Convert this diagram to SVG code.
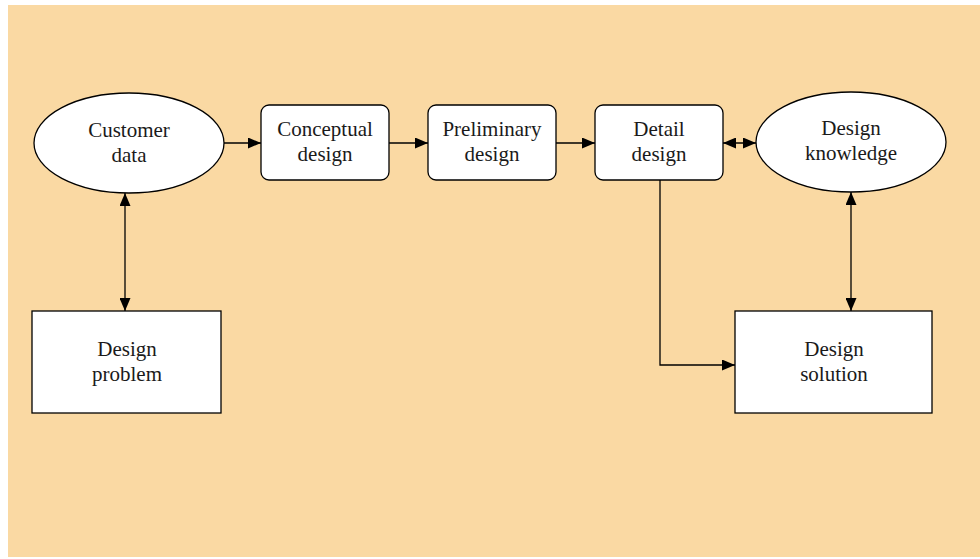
<svg xmlns="http://www.w3.org/2000/svg" width="980" height="559" viewBox="0 0 980 559">
<style>
.node{fill:#fff;stroke:#000;stroke-width:1.3}
.lbl{font-family:"Liberation Serif","DejaVu Serif",serif;font-size:21px;fill:#1a1a1a;text-anchor:middle}
.con{fill:none;stroke:#000;stroke-width:1.3}
</style>
<defs>
<marker id="ah" viewBox="0 0 13 11" refX="13" refY="5.5" markerWidth="13" markerHeight="11" markerUnits="userSpaceOnUse" orient="auto-start-reverse">
<path d="M0,0 L13,5.5 L0,11 Z" fill="#000"/>
</marker>
</defs>
<rect x="8" y="5" width="972" height="552" fill="#FAD9A3"/>
<g id="connectors">
<line class="con" x1="224" y1="143" x2="261" y2="143" marker-end="url(#ah)"/>
<line class="con" x1="389" y1="143" x2="428" y2="143" marker-end="url(#ah)"/>
<line class="con" x1="556" y1="143" x2="595" y2="143" marker-end="url(#ah)"/>
<line class="con" x1="723" y1="143" x2="756" y2="143" marker-start="url(#ah)" marker-end="url(#ah)"/>
<line class="con" x1="125" y1="193" x2="125" y2="311" marker-start="url(#ah)" marker-end="url(#ah)"/>
<line class="con" x1="851" y1="192" x2="851" y2="311" marker-start="url(#ah)" marker-end="url(#ah)"/>
<polyline class="con" points="660,180 660,365 735,365" marker-end="url(#ah)"/>
</g>
<g id="customer-data">
<ellipse class="node" cx="129" cy="143" rx="95" ry="50"/>
<text class="lbl" x="129" y="137">Customer</text>
<text class="lbl" x="129" y="162">data</text>
</g>
<g id="conceptual-design">
<rect class="node" x="261" y="105" width="128" height="75" rx="8"/>
<text class="lbl" x="325" y="136">Conceptual</text>
<text class="lbl" x="325" y="161">design</text>
</g>
<g id="preliminary-design">
<rect class="node" x="428" y="105" width="128" height="75" rx="8"/>
<text class="lbl" x="492" y="136">Preliminary</text>
<text class="lbl" x="492" y="161">design</text>
</g>
<g id="detail-design">
<rect class="node" x="595" y="105" width="128" height="75" rx="8"/>
<text class="lbl" x="659" y="136">Detail</text>
<text class="lbl" x="659" y="161">design</text>
</g>
<g id="design-knowledge">
<ellipse class="node" cx="851" cy="142" rx="95" ry="50"/>
<text class="lbl" x="851" y="135">Design</text>
<text class="lbl" x="851" y="160">knowledge</text>
</g>
<g id="design-problem">
<rect class="node" x="32" y="311" width="189" height="102"/>
<text class="lbl" x="127" y="356">Design</text>
<text class="lbl" x="127" y="381">problem</text>
</g>
<g id="design-solution">
<rect class="node" x="735" y="311" width="197" height="102"/>
<text class="lbl" x="834" y="356">Design</text>
<text class="lbl" x="834" y="381">solution</text>
</g>
</svg>
